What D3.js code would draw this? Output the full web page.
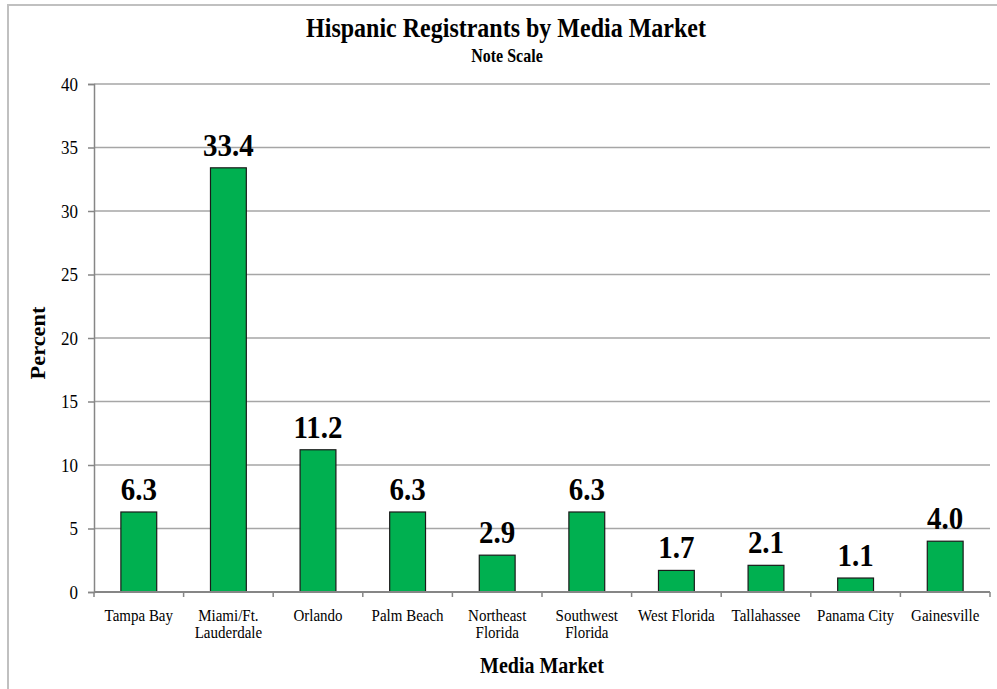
<!DOCTYPE html>
<html>
<head>
<meta charset="utf-8">
<script src="https://cdn.jsdelivr.net/npm/d3@7/dist/d3.min.js"></script>
<style>
  html, body { margin: 0; padding: 0; background: #ffffff; }
  svg { display: block; }
  text { font-family: "Liberation Serif", "Times New Roman", serif; fill: #000; }
</style>
</head>
<body>
<svg id="chart" width="997" height="689"></svg>
<script>
// Hispanic registrants share by Florida media market (percent)
const markets = ["Tampa Bay", "Miami/Ft. Lauderdale", "Orlando", "Palm Beach", "Northeast Florida",
                 "Southwest Florida", "West Florida", "Tallahassee", "Panama City", "Gainesville"];
const marketLines = [["Tampa Bay"], ["Miami/Ft.", "Lauderdale"], ["Orlando"], ["Palm Beach"],
                     ["Northeast", "Florida"], ["Southwest", "Florida"], ["West Florida"],
                     ["Tallahassee"], ["Panama City"], ["Gainesville"]];
const percents = [6.3, 33.4, 11.2, 6.3, 2.9, 6.3, 1.7, 2.1, 1.1, 4.0];
const yTicks = [0, 5, 10, 15, 20, 25, 30, 35, 40];

const svg = d3.select("#chart");
const plot = { left: 94, right: 990, top: 84, bottom: 592 };
const tall = 1.12; // slightly tall lettering

// outer chart frame
svg.append("rect")
  .attr("x", 8).attr("y", 5).attr("width", 1000).attr("height", 720)
  .attr("fill", "none").attr("stroke", "#c0c0c0").attr("stroke-width", 2);

const x = d3.scaleBand()
  .domain(markets)
  .range([plot.left, plot.right])
  .paddingInner(0.6).paddingOuter(0.3);

const y = d3.scaleLinear().domain([0, 40]).range([plot.bottom, plot.top]);

// horizontal gridlines
svg.append("g").selectAll("line").data(yTicks.filter(d => d > 0)).join("line")
  .attr("x1", plot.left).attr("x2", plot.right)
  .attr("y1", d => y(d)).attr("y2", d => y(d))
  .attr("stroke", "#a6a6a6").attr("stroke-width", 1.5);

// y axis
const yAxis = svg.append("g").attr("transform", `translate(${plot.left},0)`)
  .call(d3.axisLeft(y).tickValues(yTicks).tickSize(6).tickPadding(10));
yAxis.select(".domain").attr("stroke", "#868686").attr("stroke-width", 1.5);
yAxis.selectAll(".tick line").attr("stroke", "#868686").attr("stroke-width", 1.5);
yAxis.selectAll(".tick text")
  .style("font-family", '"Liberation Serif", "Times New Roman", serif')
  .attr("font-size", 17).attr("fill", "#000")
  .attr("dy", null).attr("y", null)
  .attr("transform", `translate(0,6) scale(1,${tall})`);

// bars
svg.append("g").selectAll("rect").data(percents).join("rect")
  .attr("x", (d, i) => x(markets[i]))
  .attr("y", d => y(d))
  .attr("width", x.bandwidth())
  .attr("height", d => y(0) - y(d))
  .attr("fill", "#00b050")
  .attr("stroke", "#1a1a1a").attr("stroke-width", 1.2);

// value labels
svg.append("g").selectAll("text").data(percents).join("text")
  .attr("transform", (d, i) => `translate(${x(markets[i]) + x.bandwidth() / 2},${y(d) - 12}) scale(1,${tall})`)
  .attr("text-anchor", "middle")
  .attr("font-size", 29).attr("font-weight", "bold")
  .text(d => d.toFixed(1));

// x axis line with category boundary ticks
const step = x.step();
const xAxisG = svg.append("g");
xAxisG.append("line")
  .attr("x1", plot.left).attr("x2", plot.right)
  .attr("y1", plot.bottom).attr("y2", plot.bottom)
  .attr("stroke", "#868686").attr("stroke-width", 2);
xAxisG.selectAll("line.tk").data(d3.range(markets.length + 1)).join("line")
  .attr("class", "tk")
  .attr("x1", i => plot.left + i * step).attr("x2", i => plot.left + i * step)
  .attr("y1", plot.bottom).attr("y2", plot.bottom + 5)
  .attr("stroke", "#868686").attr("stroke-width", 1.5);

// category labels
const catG = svg.append("g").selectAll("text").data(marketLines).join("text")
  .attr("text-anchor", "middle")
  .attr("font-size", 15)
  .attr("transform", (d, i) => `translate(${x(markets[i]) + x.bandwidth() / 2},${621}) scale(1,${tall})`);
catG.selectAll("tspan").data(d => d).join("tspan")
  .attr("x", 0).attr("dy", (d, i) => i === 0 ? 0 : 14.8)
  .text(d => d);

// titles
svg.append("text")
  .attr("transform", `translate(506,37) scale(1,${tall})`)
  .attr("text-anchor", "middle")
  .attr("font-size", 24).attr("font-weight", "bold")
  .text("Hispanic Registrants by Media Market");
svg.append("text")
  .attr("transform", `translate(507,62) scale(1,${tall})`)
  .attr("text-anchor", "middle")
  .attr("font-size", 16).attr("font-weight", "bold")
  .text("Note Scale");

svg.append("text")
  .attr("transform", `translate(45,343) rotate(-90) scale(${tall},1)`)
  .attr("text-anchor", "middle")
  .attr("font-size", 20).attr("font-weight", "bold")
  .text("Percent");

svg.append("text")
  .attr("transform", `translate(${(plot.left + plot.right) / 2},673) scale(1,${tall})`)
  .attr("text-anchor", "middle")
  .attr("font-size", 20).attr("font-weight", "bold")
  .text("Media Market");
</script>
</body>
</html>
